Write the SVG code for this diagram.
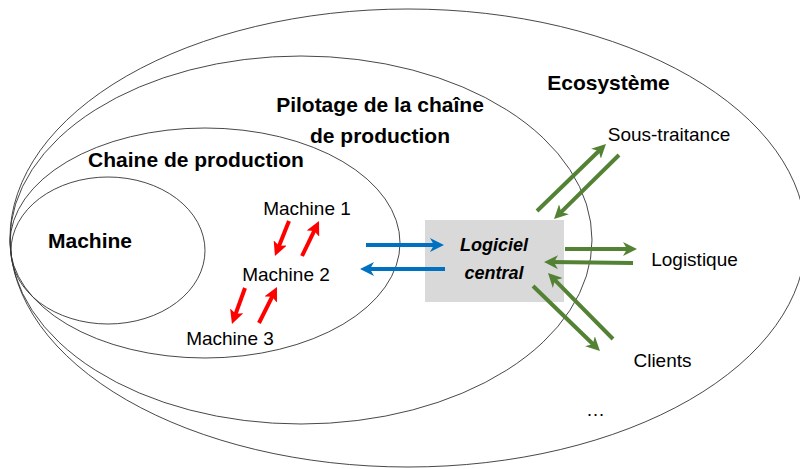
<svg xmlns="http://www.w3.org/2000/svg" width="800" height="469" viewBox="0 0 800 469">
<defs>
<style>
.ell{fill:none;stroke:#333;stroke-width:0.9}
.b{font-family:"Liberation Sans",Arial,sans-serif;font-weight:bold;font-size:21px;fill:#000;text-anchor:middle}
.r{font-family:"Liberation Sans",Arial,sans-serif;font-size:19px;fill:#000;text-anchor:middle}
.bi{font-family:"Liberation Sans",Arial,sans-serif;font-weight:bold;font-style:italic;font-size:18px;fill:#000;text-anchor:middle}
.blue{stroke:#0070c0;stroke-width:4;fill:none;marker-end:url(#hb)}
.green{stroke:#548235;stroke-width:4;fill:none;marker-end:url(#hg)}
.red{stroke:#ff0000;stroke-width:4;fill:none;marker-end:url(#hr)}
</style>
<marker id="hb" markerUnits="userSpaceOnUse" viewBox="0 0 14 14" markerWidth="14" markerHeight="14" refX="8" refY="7" orient="auto"><path d="M0,0 L14,7 L0,14 L4,7 z" fill="#0070c0"/></marker>
<marker id="hg" markerUnits="userSpaceOnUse" viewBox="0 0 14 14" markerWidth="14" markerHeight="14" refX="8" refY="7" orient="auto"><path d="M0,0 L14,7 L0,14 L4,7 z" fill="#548235"/></marker>
<marker id="hr" markerUnits="userSpaceOnUse" viewBox="0 0 14 14" markerWidth="14" markerHeight="14" refX="8" refY="7" orient="auto"><path d="M0,0 L14,7 L0,14 L3,7 z" fill="#ff0000"/></marker>
</defs>
<rect width="800" height="469" fill="#fff"/>
<g id="ecosysteme">
<ellipse class="ell" cx="408" cy="238" rx="398" ry="229"/>
<text class="b" x="608.5" y="90">Ecosystème</text>
</g>
<g id="pilotage">
<ellipse class="ell" cx="301" cy="240" rx="291" ry="184"/>
<text class="b" x="380" y="112">Pilotage de la chaîne</text>
<text class="b" x="380" y="143">de production</text>
</g>
<g id="chaine">
<ellipse class="ell" cx="205" cy="243" rx="195" ry="115"/>
<text class="b" x="196" y="167">Chaine de production</text>
</g>
<g id="machine">
<ellipse class="ell" cx="108" cy="250.5" rx="97" ry="73.5"/>
<text class="b" x="90" y="248">Machine</text>
</g>
<g id="machine1"><text class="r" x="307" y="215">Machine 1</text></g>
<g id="machine2"><text class="r" x="286" y="281">Machine 2</text></g>
<g id="machine3"><text class="r" x="230" y="345">Machine 3</text></g>
<g id="logiciel">
<rect x="425" y="220" width="139" height="82" fill="#d9d9d9"/>
<text class="bi" x="494" y="251">Logiciel</text>
<text class="bi" x="494" y="279">central</text>
</g>
<g id="sous-traitance"><text class="r" x="669" y="141">Sous-traitance</text></g>
<g id="logistique"><text class="r" x="694.5" y="266">Logistique</text></g>
<g id="clients"><text class="r" x="662.5" y="367">Clients</text></g>
<g id="etc"><text class="r" x="595.5" y="416">…</text></g>
<g id="connectors">
<line class="blue" x1="366" y1="245" x2="438" y2="245"/>
<line class="blue" x1="445" y1="269" x2="366" y2="269"/>
<line class="green" x1="537" y1="211" x2="601.7" y2="148.2"/>
<line class="green" x1="619" y1="155" x2="558.3" y2="214.8"/>
<line class="green" x1="565" y1="249" x2="631" y2="249"/>
<line class="green" x1="633" y1="263" x2="550" y2="262.1"/>
<line class="green" x1="533" y1="286" x2="595.7" y2="346.8"/>
<line class="green" x1="613" y1="339" x2="552.2" y2="277.3"/>
<line class="red" x1="289" y1="221" x2="277.2" y2="250.4"/>
<line class="red" x1="302" y1="256" x2="316.4" y2="226.4"/>
<line class="red" x1="245" y1="288" x2="234" y2="318.4"/>
<line class="red" x1="259" y1="323" x2="274.3" y2="292.4"/>
</g>
</svg>
